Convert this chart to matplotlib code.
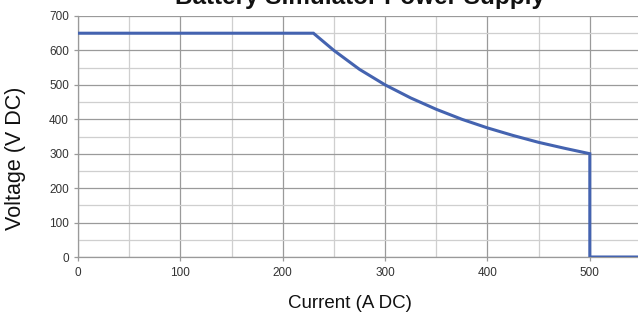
import matplotlib
matplotlib.use("Agg")
import matplotlib.pyplot as plt
from matplotlib.ticker import MultipleLocator

plt.rcParams['font.family'] = ['Liberation Sans', 'DejaVu Sans']

current = [0, 230, 250, 275, 300, 325, 350, 375, 400, 425, 450, 475, 500, 500, 550]
voltage = [650, 650, 600, 545, 500, 462, 429, 400, 375, 353, 333, 316, 300, 0, 0]

x_ticks = [0, 100, 200, 300, 400, 500]
y_ticks = [0, 100, 200, 300, 400, 500, 600, 700]

title = "Battery Simulator Power Supply"
xlabel = "Current (A DC)"
ylabel = "Voltage (V DC)"

W, H = 638, 322
fig = plt.figure(figsize=(W / 100, H / 100), dpi=100)
left, right, top, bottom = 78, 641, 16, 257
ax = fig.add_axes([left / W, 1 - bottom / H, (right - left) / W, (bottom - top) / H])

ax.plot(current, voltage, color='#4463b0', lw=2.2, solid_joinstyle='miter', zorder=3)

ax.set_xlim(0, 550)
ax.set_ylim(0, 700)
ax.set_xticks(x_ticks)
ax.set_yticks(y_ticks)
ax.xaxis.set_minor_locator(MultipleLocator(50))
ax.yaxis.set_minor_locator(MultipleLocator(50))
ax.grid(which='major', color='#9a9a9a', lw=0.9)
ax.grid(which='minor', color='#cfcfcf', lw=0.9)
ax.set_axisbelow(True)

for s in ['top', 'right']:
    ax.spines[s].set_visible(False)
for s in ['left', 'bottom']:
    ax.spines[s].set_color('#9a9a9a')
    ax.spines[s].set_linewidth(0.9)

ax.tick_params(axis='both', which='major', labelsize=8.5, labelcolor='#333333',
               color='#9a9a9a', length=3, width=0.9)
ax.tick_params(axis='both', which='minor', length=0)
ax.tick_params(axis='x', pad=4)

fig.text(16 / W, 1 - 158 / H, ylabel, rotation=90, ha='center', va='center',
         fontsize=15.5, color='#111111')
fig.text(350 / W, 1 - 304 / H, xlabel, ha='center', va='center',
         fontsize=13.5, color='#111111')
fig.text(360 / W, 1 - 4 / H, title, ha='center', va='baseline',
         fontsize=17.5, fontweight='bold', color='#111111')

fig.savefig('out.png', dpi=100)
